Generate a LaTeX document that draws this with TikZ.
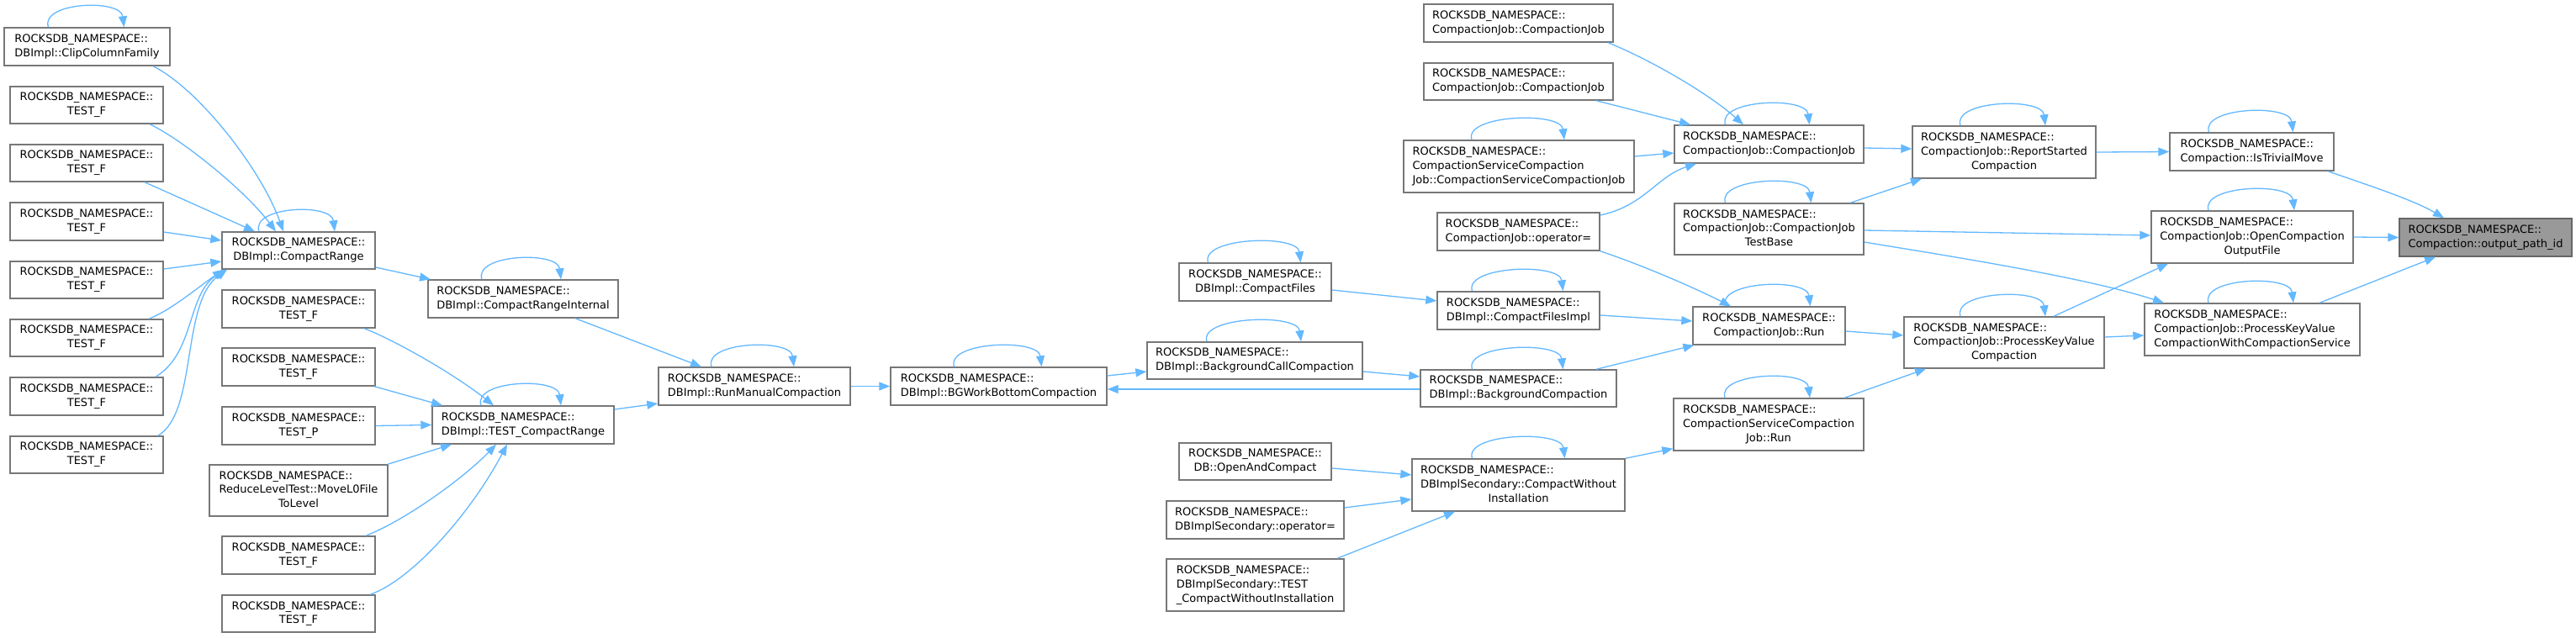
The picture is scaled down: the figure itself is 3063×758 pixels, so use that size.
\documentclass[tikz,border=0pt]{standalone}
\usepackage{fontspec}
\setmainfont{DejaVu Sans}
\usetikzlibrary{arrows.meta}
\definecolor{edgec}{HTML}{63B8FF}
\definecolor{bordc}{HTML}{777777}
\definecolor{hifill}{HTML}{999999}
\definecolor{hibord}{HTML}{666666}
\newcommand{\dxlab}[2]{\begin{tabular}{@{}l@{}}#1\\\multicolumn{1}{@{}c@{}}{#2}\end{tabular}}
\newcommand{\bx}[6]{\node[dbox,minimum width=#4pt,minimum height=#5pt] (#1) at (#2,#3) {#6};}
\newcommand{\sloop}[3]{\draw[arr] ([xshift=#2pt]#1.north) .. controls +(-10,-30) and +(-4,-34) .. ([xshift=#3pt]#1.north);}
\newcommand{\RN}{ROCKSDB\_NAMESPACE::}
\tikzset{
  dbox/.style={draw=bordc, line width=1.4pt, fill=white, inner sep=0pt, text=black,
    font=\fontsize{13pt}{16.7pt}\selectfont},
  arr/.style={draw=edgec, line width=1.3pt, -{Triangle[length=13pt,width=10pt]}}
}
\begin{document}
\begin{tikzpicture}[x=1pt,y=-1pt]
\fill[white] (0,0) rectangle (3063,758);
\useasboundingbox (0,0) rectangle (3063,758);

% column A
\bx{clip}{103.5}{55.5}{197}{45}{\dxlab{\RN}{DBImpl::ClipColumnFamily}}
\bx{tfa}{103}{125}{182}{44}{\dxlab{\RN}{TEST\_F}}
\bx{tfb}{103}{194}{182}{44}{\dxlab{\RN}{TEST\_F}}
\bx{tfc}{103}{263.5}{182}{45}{\dxlab{\RN}{TEST\_F}}
\bx{tfd}{103}{333}{182}{44}{\dxlab{\RN}{TEST\_F}}
\bx{tfe}{103}{402}{182}{44}{\dxlab{\RN}{TEST\_F}}
\bx{tff}{103}{471.5}{182}{45}{\dxlab{\RN}{TEST\_F}}
\bx{tfg}{103}{541}{182}{44}{\dxlab{\RN}{TEST\_F}}
% column B
\bx{crange}{355}{298}{182}{44}{\dxlab{\RN}{DBImpl::CompactRange}}
\bx{tbh}{355}{367.5}{182}{45}{\dxlab{\RN}{TEST\_F}}
\bx{tbi}{355}{436.5}{182}{45}{\dxlab{\RN}{TEST\_F}}
\bx{tpb}{355}{506.5}{182}{45}{\dxlab{\RN}{TEST\_P}}
\bx{rlt}{355}{583.5}{212}{61}{\dxlab{\RN\\ReduceLevelTest::MoveL0File}{ToLevel}}
\bx{tbj}{355}{660.5}{182}{45}{\dxlab{\RN}{TEST\_F}}
\bx{tbk}{355}{730}{182}{44}{\dxlab{\RN}{TEST\_F}}
% column C, D, E
\bx{cri}{622}{355.5}{226}{45}{\dxlab{\RN}{DBImpl::CompactRangeInternal}}
\bx{tcr}{622}{505.5}{216}{45}{\dxlab{\RN}{DBImpl::TEST\_CompactRange}}
\bx{rmc}{897}{459.5}{228}{45}{\dxlab{\RN}{DBImpl::RunManualCompaction}}
\bx{bgw}{1187.5}{459.5}{257}{45}{\dxlab{\RN}{DBImpl::BGWorkBottomCompaction}}
% column F
\bx{cf}{1492.5}{335.5}{181}{45}{\dxlab{\RN}{DBImpl::CompactFiles}}
\bx{bcc}{1492}{429}{256}{44}{\dxlab{\RN}{DBImpl::BackgroundCallCompaction}}
\bx{oac}{1492.5}{549}{181}{44}{\dxlab{\RN}{DB::OpenAndCompact}}
\bx{dso}{1492.5}{618.5}{211}{45}{\dxlab{\RN}{DBImplSecondary::operator=}}
\bx{dst}{1492.5}{696}{211}{62}{\dxlab{\RN\\DBImplSecondary::TEST}{\_CompactWithoutInstallation}}
% column G
\bx{cjja}{1805.5}{27.5}{225}{45}{\dxlab{\RN}{CompactionJob::CompactionJob}}
\bx{cjjb}{1805.5}{97}{225}{44}{\dxlab{\RN}{CompactionJob::CompactionJob}}
\bx{cscj}{1806}{198}{274}{62}{\dxlab{\RN\\CompactionServiceCompaction}{Job::CompactionServiceCompactionJob}}
\bx{cjop}{1805.5}{275.5}{193}{45}{\dxlab{\RN}{CompactionJob::operator=}}
\bx{cfi}{1805.5}{369.5}{193}{45}{\dxlab{\RN}{DBImpl::CompactFilesImpl}}
\bx{bgc}{1805.5}{462}{233}{44}{\dxlab{\RN}{DBImpl::BackgroundCompaction}}
\bx{cwi}{1805.5}{577}{253}{62}{\dxlab{\RN\\DBImplSecondary::CompactWithout}{Installation}}
% column H
\bx{cjc}{2103.5}{171.5}{225}{45}{\dxlab{\RN}{CompactionJob::CompactionJob}}
\bx{cjtb}{2103.5}{272.5}{225}{61}{\dxlab{\RN\\CompactionJob::CompactionJob}{TestBase}}
\bx{cjr}{2103.5}{387.5}{181}{45}{\dxlab{\RN}{CompactionJob::Run}}
\bx{cscr}{2103}{505}{226}{62}{\dxlab{\RN\\CompactionServiceCompaction}{Job::Run}}
% column I
\bx{rsc}{2383}{181}{218}{62}{\dxlab{\RN\\CompactionJob::ReportStarted}{Compaction}}
\bx{pkvc}{2383}{407.5}{238}{61}{\dxlab{\RN\\CompactionJob::ProcessKeyValue}{Compaction}}
% column J
\bx{itm}{2677.5}{180.5}{195}{45}{\dxlab{\RN}{Compaction::IsTrivialMove}}
\bx{ocof}{2678}{282}{240}{62}{\dxlab{\RN\\CompactionJob::OpenCompaction}{OutputFile}}
\bx{pkvcs}{2678}{392}{256}{62}{\dxlab{\RN\\CompactionJob::ProcessKeyValue}{CompactionWithCompactionService}}
% target
\node[dbox, fill=hifill, draw=hibord, minimum width=205pt, minimum height=45pt] (opi) at (2955.5,282.5) {\dxlab{\RN}{Compaction::output\_path\_id}};

% self loops
\sloop{clip}{-46}{44}
\sloop{crange}{-47}{43}
\sloop{cri}{-49}{45}
\sloop{tcr}{-50}{45}
\sloop{rmc}{-51}{47}
\sloop{bgw}{-53}{51}
\sloop{bcc}{-57}{55}
\sloop{bgc}{-55}{53}
\sloop{cf}{-56}{54}
\sloop{cfi}{-55}{53}
\sloop{cscj}{-56}{54}
\sloop{cwi}{-55}{55}
\sloop{cjc}{-52}{48}
\sloop{cjtb}{-52}{50}
\sloop{cjr}{-52}{49}
\sloop{cscr}{-52}{49}
\sloop{rsc}{-52}{49}
\sloop{pkvc}{-52}{49}
\sloop{itm}{-51}{49}
\sloop{ocof}{-52}{50}
\sloop{pkvcs}{-52}{49}

% into CompactRange
\draw[arr] ([xshift=78.5pt]clip.south) .. controls (235,105) and (310,200) .. ([xshift=-18pt]crange.north);
\draw[arr] ([xshift=75pt]tfa.south) .. controls (215,165) and (290,225) .. ([xshift=-27pt]crange.north);
\draw[arr] ([xshift=69pt]tfb.south) -- ([xshift=-52pt]crange.north);
\draw[arr] ([yshift=-12.5pt]tfc.east) -- ([yshift=12pt]crange.west);
\draw[arr] ([yshift=13pt]tfd.east) -- ([yshift=-13pt]crange.west);
\draw[arr] ([xshift=74pt]tfe.north) .. controls (205,368) and (235,342) .. ([xshift=-89pt]crange.south);
\draw[arr] ([xshift=82pt]tff.north) .. controls (232,420) and (222,350) .. ([xshift=-87pt]crange.south);
\draw[arr] ([xshift=85pt]tfg.north) .. controls (235,490) and (215,360) .. ([xshift=-85pt]crange.south);

\draw[arr] ([yshift=-20pt]crange.east) -- ([xshift=-110pt]cri.north);
\draw[arr] ([xshift=62pt]cri.south) -- ([xshift=-63pt]rmc.north);

% into TEST_CompactRange
\draw[arr] ([xshift=78pt]tbh.south) .. controls (470,405) and (540,445) .. ([xshift=-35pt]tcr.north);
\draw[arr] ([xshift=90pt]tbi.south) -- ([xshift=-96pt]tcr.north);
\draw[arr] (tpb.east) -- (tcr.west);
\draw[arr] ([xshift=106pt]rlt.north) -- ([xshift=-85pt]tcr.south);
\draw[arr] ([xshift=80pt]tbj.north) .. controls (480,620) and (550,570) .. ([xshift=-32pt]tcr.south);
\draw[arr] ([xshift=85pt]tbk.north) .. controls (490,690) and (560,610) .. ([xshift=-19pt]tcr.south);

\draw[arr] ([yshift=18.5pt]tcr.east) -- ([yshift=-20.5pt]rmc.west);
\draw[arr] (rmc.east) -- (bgw.west);
\draw[arr] ([yshift=12.5pt]bgw.east) -- ([yshift=-13pt]bcc.west);
\draw[arr] ([yshift=-13pt]bcc.east) -- ([yshift=14pt]bgc.west);
\draw[arr] ([yshift=-1pt]bgc.west) -- ([yshift=-3.5pt]bgw.east);

\draw[arr] ([yshift=-9.5pt]cf.east) -- ([yshift=11.5pt]cfi.west);
\draw[arr] ([yshift=-5.5pt]cfi.east) -- ([yshift=5.5pt]cjr.west);
\draw[arr] ([xshift=92.5pt]bgc.north) -- ([xshift=2pt]cjr.south west);
\draw[arr] ([yshift=19.5pt]cjop.east) .. controls (1955,245) and (1970,210) .. ([xshift=-86.5pt]cjc.south);
\draw[arr] (cjop.south east) .. controls (1960,318) and (2020,345) .. ([xshift=-45.5pt]cjr.north);

\draw[arr] ([xshift=106.5pt]cjja.south) .. controls (1960,70) and (2030,110) .. ([xshift=-30.5pt]cjc.north);
\draw[arr] ([xshift=92.5pt]cjjb.south) -- ([xshift=-93.5pt]cjc.north);
\draw[arr] ([yshift=12pt]cscj.east) -- ([yshift=-10.5pt]cjc.west);

\draw[arr] ([yshift=-4.5pt]cjc.east) -- ([yshift=4pt]rsc.west);
\draw[arr] ([xshift=96.5pt]cjtb.north) -- ([xshift=-98pt]rsc.south);
\draw[arr] ([yshift=-1.5pt]cjtb.east) -- ([yshift=2pt]ocof.west);
\draw[arr] ([yshift=-15.5pt]cjtb.east) .. controls (2320,305) and (2480,330) .. ([xshift=-105pt]pkvcs.north);
\draw[arr] ([yshift=-6.5pt]cjr.east) -- ([yshift=8.5pt]pkvc.west);
\draw[arr] ([xshift=90pt]cscr.north) -- ([xshift=-93pt]pkvc.south);

\draw[arr] (cwi.north east) -- ([yshift=3pt]cscr.south west);
\draw[arr] ([yshift=-8pt]oac.east) -- ([yshift=12pt]cwi.west);
\draw[arr] ([yshift=14.5pt]dso.east) -- ([yshift=-17pt]cwi.west);
\draw[arr] ([xshift=97.5pt]dst.north) -- ([xshift=-75.5pt]cwi.south);

\draw[arr] (rsc.east) -- (itm.west);
\draw[arr] ([xshift=59pt]pkvc.north) -- ([xshift=-100pt]ocof.south);
\draw[arr] ([yshift=6.5pt]pkvc.east) -- ([yshift=-7pt]pkvcs.west);

\draw[arr] ([xshift=90.5pt]itm.south) .. controls (2815,220) and (2870,238) .. ([xshift=-49.5pt]opi.north);
\draw[arr] (ocof.east) -- (opi.west);
\draw[arr] ([xshift=80pt]pkvcs.north) -- ([xshift=-59.5pt]opi.south);
\end{tikzpicture}
\end{document}
